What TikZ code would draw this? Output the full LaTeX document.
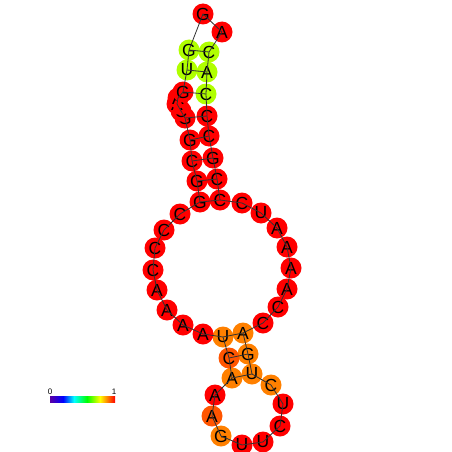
\documentclass[tikz,border=0pt]{standalone}
\usepackage{fontspec}
\setmainfont{Liberation Sans}
\definecolor{ntred}{RGB}{255,0,0}
\definecolor{ntlime}{RGB}{176,255,0}
\definecolor{ntorange}{RGB}{255,128,0}
\definecolor{ntdark}{RGB}{255,85,0}
\tikzset{
  nt/.style={circle, inner sep=0pt, minimum size=21pt, text=black, font=\fontsize{17.5}{17.5}\selectfont},
  red nt/.style={nt, fill=ntred},
  lime nt/.style={nt, fill=ntlime},
  orange nt/.style={nt, fill=ntorange},
  dark nt/.style={nt, fill=ntdark},
  bb/.style={draw=black!80, line width=0.8pt},
}
\begin{document}
\begin{tikzpicture}[x=1pt, y=-1pt]
\useasboundingbox (0,0) rectangle (452,452);
% left strand of the upper stem
\node[red nt] (g1) at (200,202) {G};
\node[red nt] (g2) at (197,181) {G};
\node[red nt] (c3) at (192,161) {C};
\node[red nt] (g4) at (190,140) {G};
\node[red nt] (g5) at (185,118) {G};
\node[red nt] (x1) at (181,111) {C};
\node[red nt] (x2) at (177,104) {A};
\node[red nt] (x3) at (178,98) {A};
\node[red nt] (g6) at (183,92) {G};
\node[lime nt] (u7) at (187,70) {U};
\node[lime nt] (g8) at (189,50) {G};
% hairpin on top
\node[red nt] (g9) at (203,14) {G};
\node[red nt] (a10) at (222,32) {A};
% right strand of the upper stem
\node[lime nt] (c11) at (209,52) {C};
\node[lime nt] (a12) at (207,72) {A};
\node[lime nt] (c13) at (206,94) {C};
\node[red nt] (c14) at (207,116) {C};
\node[red nt] (c15) at (209,136) {C};
\node[red nt] (g16) at (213,158) {G};
\node[red nt] (c17) at (217,179) {C};
\node[red nt] (c18) at (220,200) {C};
% big loop, right side
\node[red nt] (c19) at (242,203) {C};
\node[red nt] (u20) at (261,213) {U};
\node[red nt] (a21) at (277,228) {A};
\node[red nt] (a22) at (287,247) {A};
\node[red nt] (a23) at (291,268) {A};
\node[red nt] (a24) at (287,289) {A};
\node[red nt] (c25) at (278,307) {C};
\node[red nt] (c26) at (263,323) {C};
% lower stem, right strand
\node[orange nt] (a27) at (243,333) {A};
\node[orange nt] (g28) at (248,354) {G};
\node[orange nt] (u29) at (252,374) {U};
% lower hairpin
\node[orange nt] (c30) at (271,385) {C};
\node[red nt] (u31) at (283,404) {U};
\node[red nt] (c32) at (280,426) {C};
\node[red nt] (u33) at (263,442) {U};
\node[red nt] (u34) at (242,445) {U};
\node[orange nt] (g35) at (221,436) {G};
\node[dark nt] (a36) at (212,416) {A};
\node[red nt] (a37) at (215,395) {A};
% lower stem, left strand
\node[orange nt] (a38) at (232,378) {A};
\node[dark nt] (c39) at (229,358) {C};
\node[orange nt] (u40) at (223,337) {U};
% big loop, left side
\node[red nt] (a41) at (203,334) {A};
\node[red nt] (a42) at (183,325) {A};
\node[red nt] (a43) at (167,310) {A};
\node[red nt] (a44) at (157,290) {A};
\node[red nt] (c45) at (153,270) {C};
\node[red nt] (c46) at (155,248) {C};
\node[red nt] (c47) at (164,230) {C};
\node[red nt] (c48) at (180,214) {C};
% backbone
\draw[bb] (g1.center) -- (g2.center) -- (c3.center) -- (g4.center) -- (g5.center)
  -- (x1.center) -- (x2.center) -- (x3.center) -- (g6.center) -- (u7.center) -- (g8.center)
  -- (g9.center) -- (a10.center) -- (c11.center) -- (a12.center) -- (c13.center)
  -- (c14.center) -- (c15.center) -- (g16.center) -- (c17.center) -- (c18.center)
  -- (c19.center) -- (u20.center) -- (a21.center) -- (a22.center) -- (a23.center)
  -- (a24.center) -- (c25.center) -- (c26.center) -- (a27.center) -- (g28.center)
  -- (u29.center) -- (c30.center) -- (u31.center) -- (c32.center) -- (u33.center)
  -- (u34.center) -- (g35.center) -- (a36.center) -- (a37.center) -- (a38.center)
  -- (c39.center) -- (u40.center) -- (a41.center) -- (a42.center) -- (a43.center)
  -- (a44.center) -- (c45.center) -- (c46.center) -- (c47.center) -- (c48.center)
  -- (g1.center);
% base pairs
\draw[bb] (g8.center) -- (c11.center);
\draw[bb] (u7.center) -- (a12.center);
\draw[bb] (g6.center) -- (c13.center);
\draw[bb] (g5.center) -- (c14.center);
\draw[bb] (g4.center) -- (c15.center);
\draw[bb] (c3.center) -- (g16.center);
\draw[bb] (g2.center) -- (c17.center);
\draw[bb] (g1.center) -- (c18.center);
\draw[bb] (u40.center) -- (a27.center);
\draw[bb] (c39.center) -- (g28.center);
\draw[bb] (a38.center) -- (u29.center);
% colour scale
\shade[left color=violet!70!blue, right color=blue] (50,396) rectangle (63,402);
\shade[left color=blue, right color=cyan] (63,396) rectangle (74,402);
\shade[left color=cyan, right color=green] (74,396) rectangle (87,402);
\shade[left color=green, right color=yellow] (87,396) rectangle (100,402);
\shade[left color=yellow, right color=ntred] (100,396) rectangle (115,402);
\node[font=\fontsize{8}{8}\selectfont, inner sep=0pt] (lo) at (50,392) {0};
\node[font=\fontsize{8}{8}\selectfont, inner sep=0pt] (hi) at (114,392) {1};
\end{tikzpicture}
\end{document}
